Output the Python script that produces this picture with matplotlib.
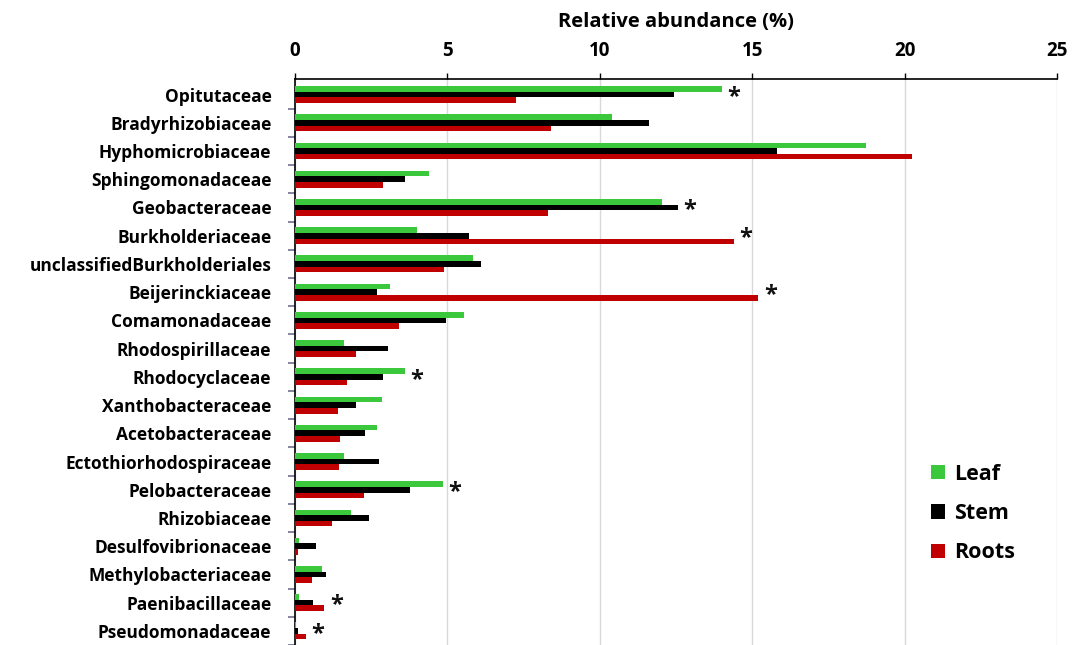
import matplotlib.pyplot as plt
import numpy as np

families = ['Opitutaceae', 'Bradyrhizobiaceae', 'Hyphomicrobiaceae', 'Sphingomonadaceae',
            'Geobacteraceae', 'Burkholderiaceae', 'unclassifiedBurkholderiales',
            'Beijerinckiaceae', 'Comamonadaceae', 'Rhodospirillaceae', 'Rhodocyclaceae',
            'Xanthobacteraceae', 'Acetobacteraceae', 'Ectothiorhodospiraceae',
            'Pelobacteraceae', 'Rhizobiaceae', 'Desulfovibrionaceae',
            'Methylobacteriaceae', 'Paenibacillaceae', 'Pseudomonadaceae']

leaf = [14.0, 10.4, 18.75, 4.4, 12.05, 4.0, 5.85, 3.1, 5.55, 1.6, 3.6, 2.85, 2.7,
        1.6, 4.85, 1.85, 0.14, 0.87, 0.14, 0.03]
stem = [12.45, 11.6, 15.8, 3.6, 12.55, 5.7, 6.1, 2.7, 4.95, 3.05, 2.9, 2.0, 2.3,
        2.75, 3.77, 2.43, 0.68, 1.0, 0.6, 0.11]
roots = [7.25, 8.4, 20.25, 2.9, 8.3, 14.4, 4.9, 15.2, 3.4, 2.0, 1.7, 1.42, 1.46,
         1.44, 2.27, 1.22, 0.1, 0.55, 0.95, 0.35]

# rows marked as significant
signif = ['Opitutaceae', 'Geobacteraceae', 'Burkholderiaceae', 'Beijerinckiaceae',
          'Rhodocyclaceae', 'Pelobacteraceae', 'Paenibacillaceae', 'Pseudomonadaceae']

plt.rcParams['font.family'] = ['Open Sans', 'DejaVu Sans']
plt.rcParams['font.weight'] = 'bold'

fig = plt.figure(figsize=(10.73, 6.45), dpi=100)
ax = fig.add_axes([0.275, 0.0, 0.71, 0.8775])

y = np.arange(len(families))
h = 0.2
ax.barh(y - h, leaf, height=h, color='#3cc83c', label='Leaf', zorder=3)
ax.barh(y, stem, height=h, color='#000000', label='Stem', zorder=3)
ax.barh(y + h, roots, height=h, color='#c00000', label='Roots', zorder=3)

for name in signif:
    i = families.index(name)
    top = max(leaf[i], stem[i], roots[i])
    ax.text(top + 0.4, i + 0.1, '*', ha='center', va='center',
            fontsize=17, fontweight='bold', color='#111111', zorder=4)

ax.set_xlim(0, 25)
ax.set_ylim(len(families) - 0.5, -0.55)
ax.xaxis.tick_top()
ax.xaxis.set_label_position('top')
ax.set_xticks([0, 5, 10, 15, 20, 25])
ax.tick_params(axis='x', labelsize=13.5, length=4, width=1, pad=9)
ax.set_xlabel('Relative abundance (%)', fontsize=14.5, fontweight='bold', labelpad=10)

ax.set_yticks(y)
ax.set_yticklabels(families, fontsize=12.5, fontweight='bold')
ax.tick_params(axis='y', which='major', length=0, pad=17)
ax.set_yticks(y + 0.5, minor=True)
ax.tick_params(axis='y', which='minor', length=5, width=1.2, color='#6f6f90')

ax.grid(axis='x', color='#d9d9d9', linewidth=1, zorder=0)
for side in ['right', 'bottom']:
    ax.spines[side].set_visible(False)
ax.spines['top'].set_linewidth(1.2)
ax.spines['left'].set_linewidth(1.2)

ax.legend(loc='lower right', bbox_to_anchor=(0.97, 0.11), frameon=False,
          handlelength=0.65, handleheight=0.65, handletextpad=0.4,
          labelspacing=0.85, prop={'weight': 'bold', 'size': 15.5})

fig.savefig('out.png', dpi=100)
